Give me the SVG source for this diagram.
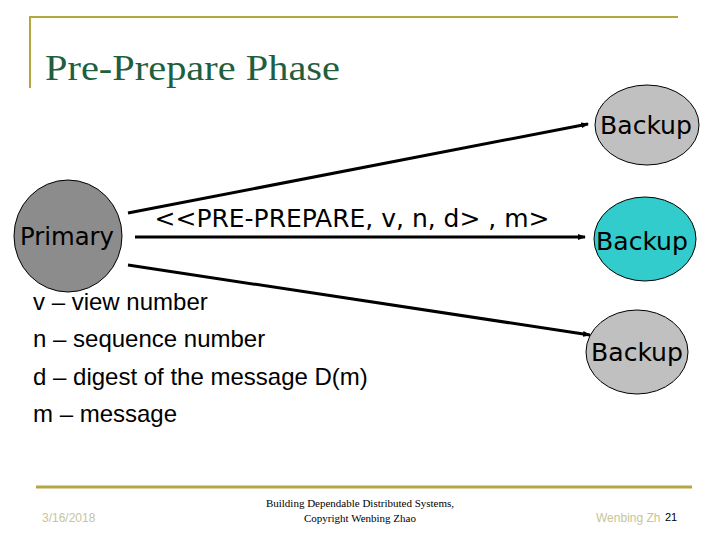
<svg xmlns="http://www.w3.org/2000/svg" width="720" height="540" viewBox="0 0 720 540">
<style>
.n{stroke:#000;stroke-width:1}
.t{font-family:"DejaVu Sans Condensed","DejaVu Sans",sans-serif;font-size:24px;fill:#000;text-anchor:middle}
.c{stroke:#000;stroke-width:3;fill:none;marker-end:url(#a)}
.l{font-family:"Liberation Sans",Arial,sans-serif;font-size:24px;fill:#000}
.f{font-family:"Liberation Serif",serif;font-size:11px;fill:#000;text-anchor:middle}
.g{font-family:"Liberation Sans",Arial,sans-serif;font-size:12px;fill:#c8c496}
</style>
<defs><marker id="a" markerWidth="8" markerHeight="6" refX="7" refY="3" orient="auto" markerUnits="userSpaceOnUse"><path d="M0,0L8,3L0,6z" fill="#000"/></marker></defs>
<rect width="720" height="540" fill="#fff"/>
<path d="M30,88V17H678" stroke="#b5a642" stroke-width="2" fill="none"/>
<line x1="36" y1="487" x2="692" y2="487" stroke="#b5a642" stroke-width="3"/>
<text x="45" y="80" font-family="Liberation Serif,serif" font-size="36" fill="#1f5f3f" textLength="295" lengthAdjust="spacingAndGlyphs">Pre-Prepare Phase</text>
<g id="primary"><ellipse class="n" cx="68" cy="236" rx="54" ry="56" fill="#8c8c8c"/><text class="t" x="67" y="245" textLength="94" lengthAdjust="spacingAndGlyphs">Primary</text></g>
<g id="backup1"><ellipse class="n" cx="647" cy="125" rx="52" ry="40" fill="#c0c0c0"/><text class="t" x="646" y="134" textLength="92" lengthAdjust="spacingAndGlyphs">Backup</text></g>
<g id="backup2"><ellipse class="n" cx="645" cy="239" rx="51" ry="42" fill="#33cccc"/><text class="t" x="642" y="250" textLength="92" lengthAdjust="spacingAndGlyphs">Backup</text></g>
<g id="backup3"><ellipse class="n" cx="637" cy="352" rx="51" ry="42" fill="#c0c0c0"/><text class="t" x="637" y="361" textLength="92" lengthAdjust="spacingAndGlyphs">Backup</text></g>
<g id="connectors">
<line class="c" x1="128" y1="213" x2="588" y2="124"/>
<line class="c" x1="135" y1="237" x2="585" y2="237"/>
<line class="c" x1="128" y1="265" x2="590" y2="335"/>
</g>
<text class="t" x="352" y="227" textLength="395" lengthAdjust="spacingAndGlyphs">&lt;&lt;PRE-PREPARE, v, n, d&gt; , m&gt;</text>
<text class="l" x="33" y="310">v – view number</text>
<text class="l" x="33" y="347">n – sequence number</text>
<text class="l" x="33" y="385">d – digest of the message D(m)</text>
<text class="l" x="33" y="422">m – message</text>
<text class="g" x="42" y="522">3/16/2018</text>
<text class="f" x="360" y="507">Building Dependable Distributed Systems,</text>
<text class="f" x="360" y="522">Copyright Wenbing Zhao</text>
<text class="g" x="596" y="522" font-size="11">Wenbing Zh</text>
<text x="665" y="521" font-family="Liberation Sans,sans-serif" font-size="11" fill="#000">21</text>
</svg>
